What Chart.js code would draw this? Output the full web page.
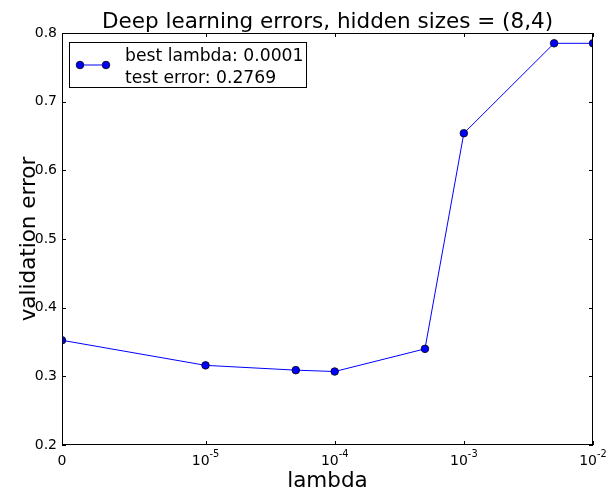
<!DOCTYPE html>
<html>
<head>
<meta charset="utf-8">
<script src="https://cdn.jsdelivr.net/npm/chart.js@4"></script>
<style>
    html, body { margin: 0; padding: 0; background: #ffffff; }
    #wrap { width: 606px; height: 495px; }
</style>
</head>
<body>
<div id="wrap"><canvas id="errChart" width="606" height="495"></canvas></div>
<script>
// Data
const LAMBDAS = [0, 1e-5, 5e-5, 1e-4, 5e-4, 1e-3, 5e-3, 1e-2];
const VAL_ERRORS = [0.3525, 0.316, 0.309, 0.307, 0.340, 0.654, 0.785, 0.785];
const X_TICKS = [0, 1e-5, 1e-4, 1e-3, 1e-2];
const Y_TICKS = [0.2, 0.3, 0.4, 0.5, 0.6, 0.7, 0.8];
const BEST_LAMBDA = '0.0001';
const TEST_ERROR = '0.2769';
const Y_TITLE = 'validation error';

const FONT = 'DejaVu Sans';
const BIG = 21.5;
const TICK = 14;
const LINTHRESH = 1e-5;
const LINSCALE = 1 / (1 - 1 / 10); // same as matplotlib symlog

// symlog transform
function symlog(v) {
    const a = Math.abs(v);
    const s = v < 0 ? -1 : 1;
    if (a <= LINTHRESH) return v / LINTHRESH * LINSCALE;
    return s * (LINSCALE + Math.log10(a / LINTHRESH));
}

function symexp(t) {
    const a = Math.abs(t);
    const s = t < 0 ? -1 : 1;
    if (a <= LINSCALE) return t / LINSCALE * LINTHRESH;
    return s * LINTHRESH * Math.pow(10, a - LINSCALE);
}

class SymlogScale extends Chart.LinearScale {
    buildTicks() {
        return X_TICKS.map(v => ({ value: v }));
    }
    getPixelForValue(value) {
        if (value === null || value === undefined) return NaN;
        const t0 = symlog(this.min);
        const t1 = symlog(this.max);
        return this.getPixelForDecimal((symlog(value) - t0) / (t1 - t0));
    }
    getValueForPixel(pixel) {
        const t0 = symlog(this.min);
        const t1 = symlog(this.max);
        return symexp(t0 + this.getDecimalForPixel(pixel) * (t1 - t0));
    }
}
SymlogScale.id = 'symlog';
SymlogScale.defaults = {};
Chart.register(SymlogScale);

// split a tick value into base and exponent text
function powParts(v) {
    if (v === 0) return ['0', ''];
    return ['10', String(Math.round(Math.log10(v)))];
}

// Frame, inward ticks, x tick labels, y title and legend box
const framePlugin = {
    id: 'frame',
    afterDraw(chart) {
        const ctx = chart.ctx;
        const { left, right, top, bottom } = chart.chartArea;
        const xs = chart.scales.x;
        const ys = chart.scales.y;
        ctx.save();
        ctx.strokeStyle = '#000000';
        ctx.lineWidth = 1;
        ctx.beginPath();
        xs.ticks.forEach(t => {
            const px = Math.round(xs.getPixelForValue(t.value)) + 0.5;
            ctx.moveTo(px, bottom);
            ctx.lineTo(px, bottom - 4);
            ctx.moveTo(px, top);
            ctx.lineTo(px, top + 4);
        });
        ys.ticks.forEach(t => {
            const py = Math.round(ys.getPixelForValue(t.value)) + 0.5;
            ctx.moveTo(left, py);
            ctx.lineTo(left + 4, py);
            ctx.moveTo(right, py);
            ctx.lineTo(right - 4, py);
        });
        ctx.stroke();
        ctx.strokeRect(Math.round(left) + 0.5, Math.round(top) + 0.5,
            Math.round(right - left) - 1, Math.round(bottom - top) - 1);

        // x tick labels with raised exponents
        ctx.fillStyle = '#000000';
        ctx.textBaseline = 'alphabetic';
        ctx.textAlign = 'left';
        const baseFont = TICK + 'px "' + FONT + '"';
        const expFont = (TICK * 0.7) + 'px "' + FONT + '"';
        xs.ticks.forEach(t => {
            const [b, e] = powParts(t.value);
            ctx.font = baseFont;
            const wb = ctx.measureText(b).width;
            ctx.font = expFont;
            const we = e ? ctx.measureText(e).width : 0;
            const px = xs.getPixelForValue(t.value);
            const x0 = px - (wb + we) / 2;
            ctx.font = baseFont;
            ctx.fillText(b, x0, bottom + 20);
            if (e) {
                ctx.font = expFont;
                ctx.fillText(e, x0 + wb, bottom + 11.5);
            }
        });

        // rotated y axis title
        ctx.save();
        ctx.translate(35, (top + bottom) / 2);
        ctx.rotate(-Math.PI / 2);
        ctx.font = BIG + 'px "' + FONT + '"';
        ctx.textAlign = 'center';
        ctx.textBaseline = 'alphabetic';
        ctx.fillText(Y_TITLE, 0, 0);
        ctx.restore();

        // legend
        const ds = chart.data.datasets[0];
        const lines = ds.label.split('\n');
        const bx = 69.5, by = 42.5, bw = 237, bh = 45;
        ctx.fillStyle = '#ffffff';
        ctx.fillRect(bx, by, bw, bh);
        ctx.strokeStyle = '#000000';
        ctx.strokeRect(bx, by, bw, bh);

        const ly = 65;
        ctx.strokeStyle = ds.borderColor;
        ctx.beginPath();
        ctx.moveTo(80, ly);
        ctx.lineTo(106, ly);
        ctx.stroke();
        [80, 106].forEach(mx => {
            ctx.beginPath();
            ctx.arc(mx, ly, ds.pointRadius, 0, Math.PI * 2);
            ctx.fillStyle = ds.pointBackgroundColor;
            ctx.fill();
            ctx.lineWidth = ds.pointBorderWidth;
            ctx.strokeStyle = ds.pointBorderColor;
            ctx.stroke();
        });

        ctx.fillStyle = '#000000';
        ctx.font = '17.2px "' + FONT + '"';
        ctx.textBaseline = 'alphabetic';
        ctx.textAlign = 'left';
        lines.forEach((s, i) => ctx.fillText(s, 125, 61 + i * 21.5));
        ctx.restore();
    }
};

const ctx = document.getElementById('errChart').getContext('2d');

const errChart = new Chart(ctx, {
    type: 'line',
    data: {
        datasets: [{
            label: 'best lambda: ' + BEST_LAMBDA + '\ntest error: ' + TEST_ERROR,
            data: LAMBDAS.map((l, i) => ({ x: l, y: VAL_ERRORS[i] })),
            borderColor: '#0000ff',
            borderWidth: 1,
            pointRadius: 3.8,
            pointBackgroundColor: '#0000ff',
            pointBorderColor: '#000000',
            pointBorderWidth: 0.8,
            pointHoverRadius: 3.8,
            tension: 0,
            clip: 0
        }]
    },
    options: {
        responsive: false,
        animation: false,
        events: [],
        layout: {
            padding: { top: 0, right: 13, bottom: 0, left: 0 }
        },
        plugins: {
            legend: { display: false },
            tooltip: { enabled: false },
            title: {
                display: true,
                text: 'Deep learning errors, hidden sizes = (8,4)',
                fullSize: false,
                color: '#000000',
                font: { family: FONT, size: BIG, weight: 'normal', lineHeight: 1 },
                padding: { top: 11.5, bottom: 0 }
            }
        },
        scales: {
            x: {
                type: 'symlog',
                min: 0,
                max: 1e-2,
                afterFit(scale) {
                    scale.height = 50;
                    scale.paddingLeft = 0;
                    scale.paddingRight = 0;
                },
                grid: { display: false, drawTicks: false },
                border: { display: false },
                ticks: {
                    display: false,
                    autoSkip: false,
                    maxRotation: 0
                },
                title: {
                    display: true,
                    text: 'lambda',
                    color: '#000000',
                    font: { family: FONT, size: BIG, lineHeight: 1 },
                    padding: { top: 0, bottom: 2.8 }
                }
            },
            y: {
                type: 'linear',
                min: 0.2,
                max: 0.8,
                afterFit(scale) {
                    scale.width = 62;
                    scale.paddingTop = 0;
                    scale.paddingBottom = 0;
                },
                afterBuildTicks(scale) {
                    scale.ticks = Y_TICKS.map(v => ({ value: v }));
                },
                grid: { display: false, drawTicks: false },
                border: { display: false },
                ticks: {
                    padding: 5,
                    color: '#000000',
                    font: { family: FONT, size: TICK },
                    callback: (v) => v.toFixed(1)
                },
                title: { display: false }
            }
        }
    },
    plugins: [framePlugin]
});
</script>
</body>
</html>
